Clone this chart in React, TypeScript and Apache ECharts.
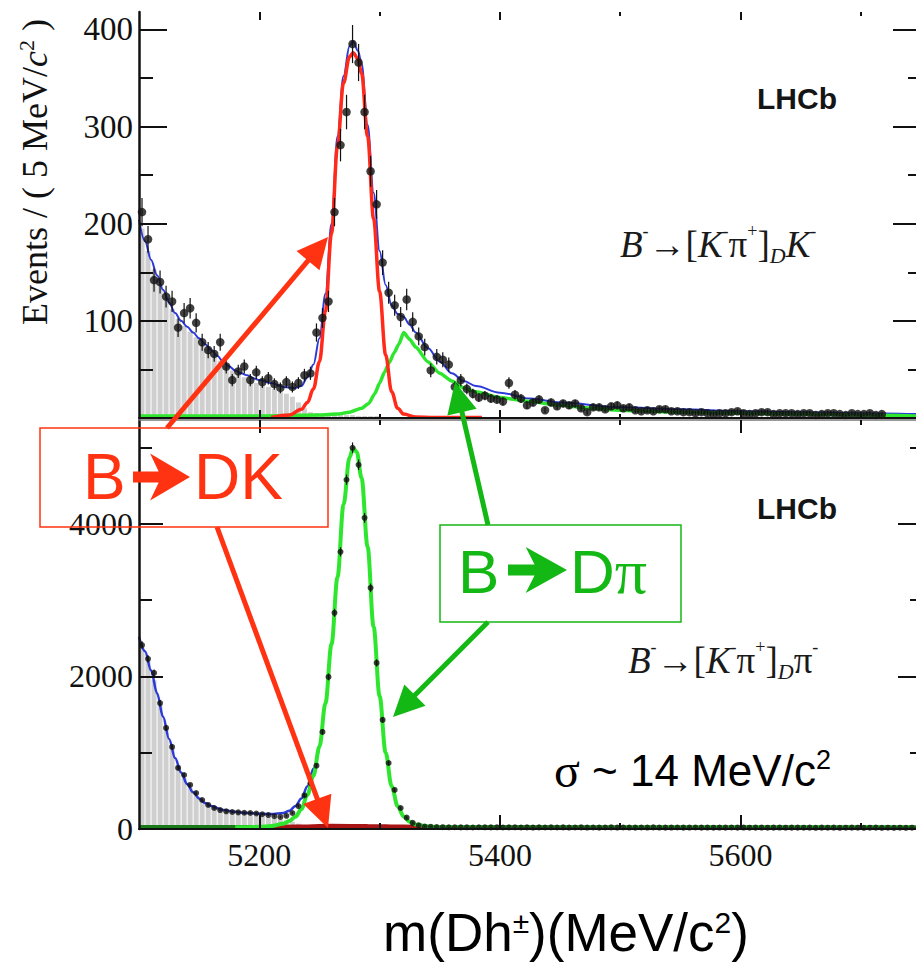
import React, { useEffect, useRef } from "react";
import * as echarts from "echarts";

// ---------------- axes ----------------
const massMin = 5100;
const massMax = 5750;
const binStart = 5100;
const binWidth = 5;
const massMajorTicks = [5200, 5400, 5600];
const massMinorTicks = [5300, 5500, 5700];
const topYMax = 418;
const topMajorTicks = [100, 200, 300, 400];
const topMinorTicks = [50, 150, 250, 350];
const botYMax = 5360;
const botMajorTicks = [0, 2000, 4000];
const botMinorTicks = [1000, 3000, 5000];

// ---------------- top panel: B -> [K pi]_D K ----------------
const topCounts = [
  212, 184, 142, 140, 125, 120, 93, 108, 113, 98,
  78, 70, 66, 78, 53, 39, 48, 53, 39, 47,
  37, 41, 35, 31, 37, 32, 36, 44, 46, 88,
  103, 120, 212, 281, 315, 385, 366, 315, 254, 220,
  160, 129, 116, 104, 122, 99, 84, 73, 49, 63,
  60, 55, 32, 39, 30, 25, 21, 23, 20, 19,
  17, 36, 24, 20, 13, 16, 19, 8, 16, 12,
  15, 13, 15, 10, 6, 11, 11, 9, 12, 13,
  10, 11, 8, 7, 8, 7, 9, 9, 7, 7,
  6, 6, 5, 6, 5, 4, 5, 5, 6, 7,
  5, 4, 5, 6, 6, 4, 5, 5, 5, 4,
  5, 5, 3, 4, 5, 5, 4, 3, 5, 4,
  4, 5, 3, 4,
];
const topPartReco = [
  195, 172, 153, 138, 124, 112, 102, 95, 89, 83,
  77, 71, 65, 59, 54, 49, 45, 42, 39, 36,
  34, 32, 30, 27, 25, 22, 16, 10, 6, 5,
  4, 4, 3, 3, 3, 3, 2, 2, 2, 2,
];
const topTotalFit = [
  [5100, 204], [5105, 182], [5110, 163], [5115, 147], [5120, 132], [5125, 119],
  [5130, 108], [5135, 100], [5140, 94], [5145, 88], [5150, 82], [5155, 76],
  [5160, 70], [5165, 64], [5170, 58], [5175, 53], [5180, 49], [5185, 46],
  [5190, 44], [5195, 41], [5200, 39], [5210, 36], [5220, 32], [5230, 31],
  [5235, 33], [5240, 42], [5245, 55], [5250, 82], [5255, 128], [5260, 200],
  [5265, 290], [5270, 352], [5275, 383], [5278, 388], [5282, 378], [5285, 365],
  [5290, 302], [5295, 232], [5300, 172], [5305, 137], [5310, 116], [5315, 107],
  [5320, 104], [5325, 96], [5330, 88], [5340, 72], [5350, 58], [5360, 46],
  [5370, 38], [5380, 33], [5400, 26], [5425, 20], [5450, 16], [5500, 11],
  [5550, 9], [5600, 7], [5650, 6], [5700, 5], [5750, 4],
];
const topSignalDK = [
  [5210, 0.5], [5225, 3], [5235, 9], [5240, 16], [5245, 30], [5250, 58],
  [5255, 110], [5260, 190], [5265, 280], [5270, 345], [5275, 372], [5278, 376],
  [5282, 370], [5285, 355], [5290, 290], [5295, 205], [5300, 130], [5305, 65],
  [5310, 27], [5315, 10], [5320, 4], [5330, 1], [5345, 0.5], [5385, 0.5],
];
const topMisIdDpi = [
  [5100, 2], [5150, 2], [5200, 2], [5250, 3], [5265, 4], [5275, 6],
  [5285, 10], [5291, 15], [5296, 25], [5300, 36], [5304, 47], [5308, 57],
  [5312, 67], [5316, 76], [5320, 88], [5325, 81], [5330, 73], [5340, 58],
  [5350, 46], [5360, 38], [5370, 31], [5380, 27], [5400, 21], [5425, 17],
  [5450, 13], [5475, 10], [5500, 8], [5550, 6], [5600, 5], [5650, 4],
  [5700, 3], [5750, 2],
];

// ---------------- bottom panel: B -> [K pi]_D pi ----------------
const botCounts = [
  2410, 2230, 2045, 1650, 1325, 1075, 800, 708, 577, 472,
  380, 315, 275, 248, 232, 223, 218, 213, 210, 203,
  193, 183, 168, 158, 173, 210, 300, 440, 600, 830,
  1272, 1993, 2833, 3632, 4577, 4995, 4773, 4078, 3160, 2177,
  1430, 865, 512, 275, 149, 80, 48, 33, 28, 25,
  24, 22, 23, 21, 22, 20, 23, 22, 21, 22,
  20, 21, 22, 20, 21, 19, 21, 20, 22, 20,
  21, 19, 20, 21, 19, 20, 18, 20, 21, 19,
  20, 19, 18, 20, 19, 21, 19, 18, 19, 20,
  18, 19, 20, 18, 19, 17, 19, 18, 20, 18,
  19, 17, 18, 19, 17, 18, 19, 17, 18, 18,
  17, 18, 16, 18, 17, 18, 16, 17, 18, 17,
  16, 17, 18, 16, 17, 16, 17, 16, 17, 16,
];
const botPartReco = [
  2400, 2220, 1950, 1640, 1330, 1060, 840, 670, 540, 440,
  365, 310, 270, 245, 225, 212, 200, 190, 180, 170,
  160, 150, 140, 130, 115, 95, 70, 45, 25, 12,
];
const botTotalFit = [
  [5100, 2520], [5105, 2330], [5110, 2080], [5115, 1780], [5120, 1470],
  [5125, 1180], [5130, 930], [5135, 740], [5140, 590], [5145, 480],
  [5150, 400], [5155, 340], [5160, 300], [5170, 250], [5180, 225],
  [5190, 210], [5200, 200], [5210, 195], [5220, 210], [5225, 240],
  [5230, 300], [5235, 400], [5240, 560], [5245, 790], [5250, 1100],
];
const botSignalDpi = [
  [5180, 22], [5190, 24], [5200, 28], [5210, 40], [5220, 70], [5225, 105],
  [5230, 160], [5235, 260], [5240, 450], [5245, 700], [5250, 1080], [5255, 1650],
  [5260, 2420], [5265, 3300], [5270, 4250], [5275, 4870], [5278, 4990], [5281, 4940],
  [5285, 4600], [5290, 3700], [5295, 2650], [5300, 1740], [5305, 1000], [5310, 560],
  [5315, 300], [5320, 165], [5325, 95], [5330, 60], [5340, 35], [5350, 25],
  [5400, 21], [5500, 20], [5600, 20], [5750, 20],
];
const botCombinatorial = [[5100, 22], [5300, 22], [5500, 21], [5750, 20]];
const botMisIdDK = [[5205, 15], [5230, 28], [5260, 38], [5290, 36], [5320, 28], [5342, 18]];

// ---------------- helpers ----------------
const binned = (vals: number[]) => vals.map((v, i) => [binStart + binWidth * (i + 0.5), v]);

const SERIF = '"Liberation Serif", "Times New Roman", serif';
const SANS = '"Liberation Sans", Arial, sans-serif';
const plain = (v: number) => String(v);

function xAxisDef(grid: number, position: string, ticks: number[], len: number, extra: any = {}) {
  return {
    type: "value",
    gridIndex: grid,
    position,
    min: massMin,
    max: massMax,
    z: 20,
    axisLine: { show: false, onZero: false },
    axisTick: { show: true, inside: true, length: len, customValues: ticks, lineStyle: { color: "#111", width: 2 } },
    axisLabel: { show: false },
    splitLine: { show: false },
    ...extra,
  };
}
function yAxisDef(grid: number, position: string, max: number, ticks: number[], len: number, extra: any = {}) {
  return {
    type: "value",
    gridIndex: grid,
    position,
    min: 0,
    max,
    z: 20,
    axisLine: { show: false, onZero: false },
    axisTick: { show: true, inside: true, length: len, customValues: ticks, lineStyle: { color: "#111", width: 2 } },
    axisLabel: { show: false },
    splitLine: { show: false },
    ...extra,
  };
}

function errorBars(xi: number, yi: number, data: number[][], width: number) {
  return {
    type: "custom",
    xAxisIndex: xi,
    yAxisIndex: yi,
    data,
    z: 8,
    silent: true,
    renderItem: (_p: any, api: any) => {
      const x = api.value(0);
      const y = api.value(1);
      const e = Math.sqrt(y);
      const a = api.coord([x, Math.max(0, y - e)]);
      const b = api.coord([x, y + e]);
      return {
        type: "line",
        shape: { x1: a[0], y1: a[1], x2: b[0], y2: b[1] },
        style: { stroke: "#111", lineWidth: width },
      };
    },
  };
}

function arrow(x1: number, y1: number, x2: number, y2: number, color: string) {
  const headLen = 31;
  const headW = 30;
  const dx = x2 - x1;
  const dy = y2 - y1;
  const L = Math.hypot(dx, dy);
  const ux = dx / L;
  const uy = dy / L;
  const px = -uy;
  const py = ux;
  const bx = x2 - ux * headLen;
  const by = y2 - uy * headLen;
  return [
    { type: "line", z: 100, shape: { x1, y1, x2: bx + ux * 3, y2: by + uy * 3 }, style: { stroke: color, lineWidth: 5 } },
    {
      type: "polygon",
      z: 100,
      shape: { points: [[x2, y2], [bx + (px * headW) / 2, by + (py * headW) / 2], [bx - (px * headW) / 2, by - (py * headW) / 2]] },
      style: { fill: color },
    },
  ];
}

function heavyArrow(x0: number, cy: number, len: number, h: number, color: string) {
  const shaftH = 11;
  const headStart = x0 + len * 0.3;
  const notch = x0 + len * 0.45;
  return {
    type: "polygon",
    z: 100,
    shape: {
      points: [
        [x0, cy - shaftH / 2], [notch, cy - shaftH / 2], [headStart, cy - h / 2],
        [x0 + len, cy], [headStart, cy + h / 2], [notch, cy + shaftH / 2], [x0, cy + shaftH / 2],
      ],
    },
    style: { fill: color },
  };
}

const RED = "#ff3311";
const GREEN = "#14b814";

const decayRich = {
  i: { fontFamily: SERIF, fontStyle: "italic", fontSize: 37, lineHeight: 44, fill: "#1a1a1a" },
  n: { fontFamily: SERIF, fontSize: 37, lineHeight: 44, fill: "#1a1a1a" },
  p: { fontFamily: SERIF, fontSize: 18, lineHeight: 18, verticalAlign: "top", fill: "#1a1a1a" },
  d: { fontFamily: SERIF, fontStyle: "italic", fontSize: 22, lineHeight: 22, verticalAlign: "bottom", fill: "#1a1a1a" },
};

export default function App() {
  const ref = useRef<HTMLDivElement>(null);
  useEffect(() => {
    if (!ref.current) return;
    const chart = echarts.init(ref.current, undefined, { renderer: "svg" });

    const xAxis = [
      // top panel
      xAxisDef(0, "bottom", massMajorTicks, 8, { axisLine: { show: true, onZero: false, lineStyle: { color: "#111", width: 2 } } }),
      xAxisDef(0, "bottom", massMinorTicks, 4),
      xAxisDef(0, "top", massMajorTicks, 8),
      xAxisDef(0, "top", massMinorTicks, 4),
      // bottom panel
      xAxisDef(1, "bottom", massMajorTicks, 14, {
        axisLine: { show: true, onZero: false, lineStyle: { color: "#111", width: 2 } },
        axisLabel: { show: true, customValues: massMajorTicks, formatter: plain, fontFamily: SERIF, fontSize: 32, color: "#111", margin: 10 },
      }),
      xAxisDef(1, "bottom", massMinorTicks, 6),
      xAxisDef(1, "top", massMajorTicks, 13, { axisLine: { show: true, onZero: false, lineStyle: { color: "#777", width: 1.5 } } }),
      xAxisDef(1, "top", massMinorTicks, 5),
    ];
    const yAxis = [
      yAxisDef(0, "left", topYMax, topMajorTicks, 28, {
        axisLine: { show: true, onZero: false, lineStyle: { color: "#111", width: 2.5 } },
        axisLabel: { show: true, customValues: topMajorTicks, formatter: plain, fontFamily: SERIF, fontSize: 33, color: "#111", margin: 6 },
      }),
      yAxisDef(0, "left", topYMax, topMinorTicks, 14),
      yAxisDef(0, "right", topYMax, topMajorTicks, 28, { axisLine: { show: true, onZero: false, lineStyle: { color: "#111", width: 2 } } }),
      yAxisDef(0, "right", topYMax, topMinorTicks, 13),
      yAxisDef(1, "left", botYMax, botMajorTicks, 24, {
        axisLine: { show: true, onZero: false, lineStyle: { color: "#111", width: 2.5 } },
        axisLabel: { show: true, customValues: botMajorTicks, formatter: plain, fontFamily: SERIF, fontSize: 32, color: "#111", margin: 6 },
      }),
      yAxisDef(1, "left", botYMax, botMinorTicks, 13),
      yAxisDef(1, "right", botYMax, botMajorTicks, 23, { axisLine: { show: true, onZero: false, lineStyle: { color: "#111", width: 2 } } }),
      yAxisDef(1, "right", botYMax, botMinorTicks, 11),
    ];

    const lineBase = { type: "line", showSymbol: false, silent: true, smooth: 0.35, smoothMonotone: "x" };

    const series: any[] = [
      // ---- top ----
      { type: "bar", xAxisIndex: 0, yAxisIndex: 0, data: binned(topPartReco), barWidth: 5, itemStyle: { color: "#cfcfcf" }, silent: true, z: 1 },
      { ...lineBase, xAxisIndex: 0, yAxisIndex: 0, data: topTotalFit, lineStyle: { color: "#2c3ad8", width: 2 }, z: 3 },
      { ...lineBase, xAxisIndex: 0, yAxisIndex: 0, data: topMisIdDpi, smooth: 0.2, lineStyle: { color: "#2ee62e", width: 3.5 }, z: 4 },
      { ...lineBase, xAxisIndex: 0, yAxisIndex: 0, data: topSignalDK, lineStyle: { color: "#ff2a1a", width: 3.5 }, z: 5 },
      errorBars(0, 0, binned(topCounts), 1.2),
      { type: "scatter", xAxisIndex: 0, yAxisIndex: 0, data: binned(topCounts), symbolSize: 8.5, itemStyle: { color: "#111" }, silent: true, z: 9 },
      // ---- bottom ----
      { type: "bar", xAxisIndex: 4, yAxisIndex: 4, data: binned(botPartReco), barWidth: 5, itemStyle: { color: "#cfcfcf" }, silent: true, z: 1 },
      { ...lineBase, xAxisIndex: 4, yAxisIndex: 4, data: botCombinatorial, smooth: false, lineStyle: { color: "#187a18", width: 4.5 }, z: 2 },
      { ...lineBase, xAxisIndex: 4, yAxisIndex: 4, data: botMisIdDK, lineStyle: { color: "#a81414", width: 4.5 }, z: 3 },
      { ...lineBase, xAxisIndex: 4, yAxisIndex: 4, data: botTotalFit, lineStyle: { color: "#2c3ad8", width: 2.5 }, z: 4 },
      { ...lineBase, xAxisIndex: 4, yAxisIndex: 4, data: botSignalDpi, lineStyle: { color: "#2ee62e", width: 4 }, z: 5 },
      errorBars(4, 4, binned(botCounts), 1.2),
      { type: "scatter", xAxisIndex: 4, yAxisIndex: 4, data: binned(botCounts), symbolSize: 6, itemStyle: { color: "#111" }, silent: true, z: 9 },
    ];

    const elements: any[] = [
      // y-axis title
      {
        type: "text", z: 100, x: 35, y: 172, rotation: Math.PI / 2,
        style: {
          text: "{a|Events / ( 5 MeV/}{c|c}{s|2}{a| )}",
          align: "center", verticalAlign: "middle",
          rich: {
            a: { fontFamily: SERIF, fontSize: 36, lineHeight: 40, fill: "#111" },
            c: { fontFamily: SERIF, fontStyle: "italic", fontSize: 36, lineHeight: 40, fill: "#111" },
            s: { fontFamily: SERIF, fontSize: 22, lineHeight: 22, verticalAlign: "top", fill: "#111" },
          },
        },
      },
      // LHCb labels
      { type: "text", z: 100, x: 797, y: 98, style: { text: "LHCb", fontFamily: SANS, fontWeight: "bold", fontSize: 30, fill: "#151515", align: "center", verticalAlign: "middle" } },
      { type: "text", z: 100, x: 797, y: 508, style: { text: "LHCb", fontFamily: SANS, fontWeight: "bold", fontSize: 30, fill: "#151515", align: "center", verticalAlign: "middle" } },
      // decay labels
      {
        type: "text", z: 100, x: 620, y: 244,
        style: { text: "{i|B}{p|-}{n|\u2192[}{i|K}{p|-}{n|\u03c0}{p|+}{n|]}{d|D}{i|K}{p|-}", align: "left", verticalAlign: "middle", rich: decayRich },
      },
      {
        type: "text", z: 100, x: 628, y: 660,
        style: { text: "{i|B}{p|-}{n|\u2192[}{i|K}{p|-}{n|\u03c0}{p|+}{n|]}{d|D}{n|\u03c0}{p|-}", align: "left", verticalAlign: "middle", rich: decayRich },
      },
      // sigma text
      {
        type: "text", z: 100, x: 554, y: 770,
        style: {
          text: "{g|\u03c3}{a| ~ 14 MeV/c}{s|2}", align: "left", verticalAlign: "middle",
          rich: {
            g: { fontFamily: SERIF, fontSize: 48, lineHeight: 48, fill: "#000" },
            a: { fontFamily: SANS, fontSize: 44, lineHeight: 48, fill: "#000" },
            s: { fontFamily: SANS, fontSize: 27, lineHeight: 27, verticalAlign: "top", fill: "#000" },
          },
        },
      },
      // x-axis title
      {
        type: "text", z: 100, x: 566, y: 932,
        style: {
          text: "{a|m(Dh}{s|\u00b1}{a|)(MeV/c}{s|2}{a|)}", align: "center", verticalAlign: "middle",
          rich: {
            a: { fontFamily: SANS, fontSize: 53, lineHeight: 50, fill: "#000" },
            s: { fontFamily: SANS, fontSize: 30, lineHeight: 30, verticalAlign: "top", fill: "#000" },
          },
        },
      },
      // red box B -> DK
      { type: "rect", z: 100, shape: { x: 40, y: 428, width: 288, height: 99 }, style: { fill: "none", stroke: RED, lineWidth: 1.5 } },
      {
        type: "text", z: 100, x: 83, y: 477,
        style: { text: "{a|B}", align: "left", verticalAlign: "middle", rich: { a: { fontFamily: SANS, fontSize: 64, lineHeight: 50, fill: RED } } },
      },
      heavyArrow(133, 477, 57, 47, RED),
      {
        type: "text", z: 100, x: 194, y: 477,
        style: { text: "{a|DK}", align: "left", verticalAlign: "middle", rich: { a: { fontFamily: SANS, fontSize: 64, lineHeight: 50, fill: RED } } },
      },
      ...arrow(167, 428, 328, 237, RED),
      ...arrow(217, 527, 328, 828, RED),
      // green box B -> D pi
      { type: "rect", z: 100, shape: { x: 440, y: 525, width: 241, height: 97 }, style: { fill: "none", stroke: GREEN, lineWidth: 1.5 } },
      {
        type: "text", z: 100, x: 458, y: 571,
        style: { text: "{a|B}", align: "left", verticalAlign: "middle", rich: { a: { fontFamily: SANS, fontSize: 62, lineHeight: 50, fill: GREEN } } },
      },
      heavyArrow(508, 570, 59, 46, GREEN),
      {
        type: "text", z: 100, x: 570, y: 571,
        style: {
          text: "{a|D}{b|\u03c0}", align: "left", verticalAlign: "middle",
          rich: {
            a: { fontFamily: SANS, fontSize: 62, lineHeight: 52, fill: GREEN },
            b: { fontFamily: SERIF, fontSize: 64, lineHeight: 52, fill: GREEN },
          },
        },
      },
      ...arrow(488, 525, 455, 382, GREEN),
      ...arrow(488, 622, 393, 717, GREEN),
    ];

    chart.setOption({
      animation: false,
      backgroundColor: "#ffffff",
      grid: [
        { left: 139, top: 12, width: 782, height: 406, outerBoundsMode: "none", containLabel: false },
        { left: 139, top: 420, width: 782, height: 409, outerBoundsMode: "none", containLabel: false },
      ],
      xAxis,
      yAxis,
      series,
      graphic: { elements },
    });
    return () => chart.dispose();
  }, []);

  return <div ref={ref} style={{ position: "fixed", left: 0, top: 0, width: 916, height: 962, background: "#fff" }} />;
}
